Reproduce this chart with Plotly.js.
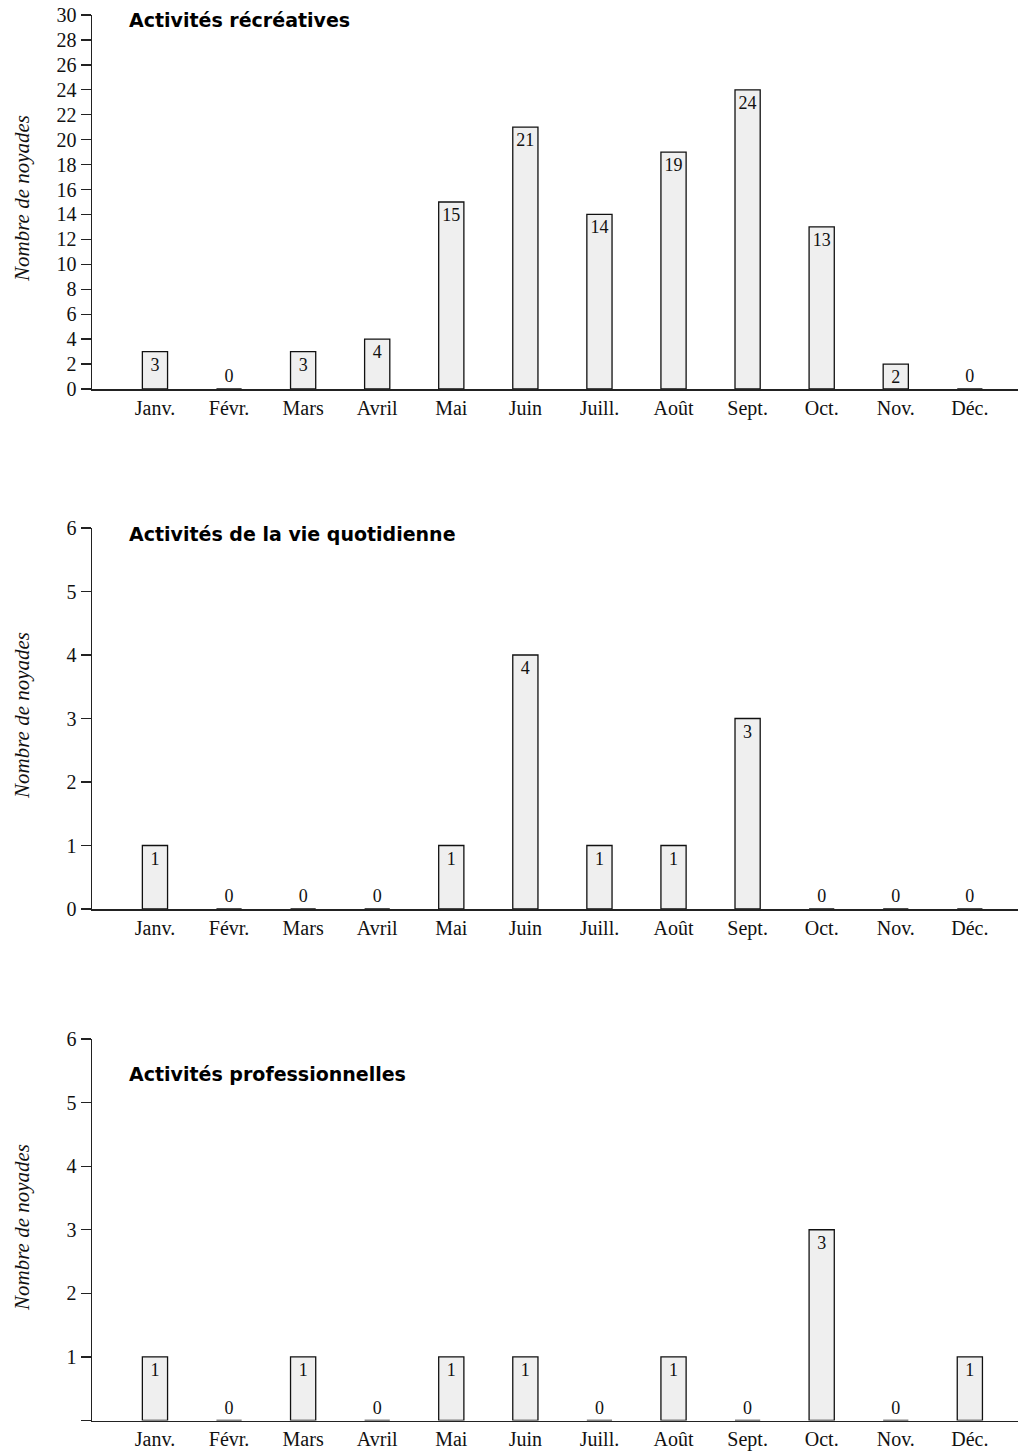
<!DOCTYPE html>
<html>
<head>
<meta charset="utf-8">
<script src="https://cdn.plot.ly/plotly-3.0.1.min.js"></script>
<style>html,body{margin:0;padding:0;background:#fff;}#chart{width:1018px;height:1452px;}</style>
</head>
<body>
<div id="chart"></div>
<script>
const months = ['Janv.', 'Févr.', 'Mars', 'Avril', 'Mai', 'Juin', 'Juill.', 'Août', 'Sept.', 'Oct.', 'Nov.', 'Déc.'];
const recreatives = [3, 0, 3, 4, 15, 21, 14, 19, 24, 13, 2, 0];
const quotidienne = [1, 0, 0, 0, 1, 4, 1, 1, 3, 0, 0, 0];
const professionnelles = [1, 0, 1, 0, 1, 1, 0, 1, 0, 3, 0, 1];
const panelTitles = ['Activités récréatives', 'Activités de la vie quotidienne', 'Activités professionnelles'];
const yTitle = 'Nombre de noyades';
const yTicks1 = [0, 2, 4, 6, 8, 10, 12, 14, 16, 18, 20, 22, 24, 26, 28, 30];
const yTicks2 = [0, 1, 2, 3, 4, 5, 6];
const yTickText2 = ['0', '1', '2', '3', '4', '5', '6'];
const yTickText3 = ['', '1', '2', '3', '4', '5', '6'];

const serif = 'Liberation Serif, Times New Roman, serif';
const series = [recreatives, quotidienne, professionnelles];

function barTrace(vals, idx) {
  const ax = idx === 0 ? '' : String(idx + 1);
  return {
    type: 'bar',
    x: months,
    y: vals,
    xaxis: 'x' + ax,
    yaxis: 'y' + ax,
    width: 0.34,
    marker: {color: '#efefef', line: {color: '#111', width: 1.3}},
    text: vals.map(String),
    textposition: vals.map(v => v === 0 ? 'outside' : 'inside'),
    insidetextanchor: 'end',
    constraintext: 'none',
    textangle: 0,
    cliponaxis: false,
    textfont: {family: serif, size: 18, color: '#111'},
    outsidetextfont: {family: serif, size: 18, color: '#111'},
    insidetextfont: {family: serif, size: 18, color: '#111'},
    hoverinfo: 'skip',
    showlegend: false
  };
}

const H = 1452;
const doms = [
  [1 - 389 / H, 1 - 15 / H],
  [1 - 909 / H, 1 - 528 / H],
  [1 - 1420.5 / H, 1 - 1039 / H]
];

function xaxisDef(anchor) {
  return {
    domain: [92 / 1018, 1],
    anchor: anchor,
    type: 'category',
    categoryorder: 'array',
    categoryarray: months,
    range: [-0.85, 11.65],
    showline: true, linecolor: '#222', linewidth: 1.5,
    ticks: '', showgrid: false, zeroline: false,
    tickfont: {family: serif, size: 20, color: '#111'},
    ticklabelstandoff: 0,
    fixedrange: true
  };
}
function yaxisDef(anchor, dom, range, tickvals, ticktext) {
  return {
    domain: dom,
    anchor: anchor,
    range: range,
    tickmode: 'array', tickvals: tickvals, ticktext: ticktext,
    showline: true, linecolor: '#222', linewidth: 1.5,
    ticks: 'outside', ticklen: 10, tickcolor: '#222', tickwidth: 1.3,
    showgrid: false, zeroline: false,
    tickfont: {family: serif, size: 20, color: '#111'},
    fixedrange: true
  };
}

const layout = {
  width: 1018, height: 1452,
  margin: {l: 0, r: 0, t: 0, b: 0},
  paper_bgcolor: '#fff', plot_bgcolor: '#fff',
  bargap: 0.66,
  xaxis: xaxisDef('y'),
  yaxis: yaxisDef('x', doms[0], [0, 30], yTicks1, yTicks1.map(String)),
  xaxis2: xaxisDef('y2'),
  yaxis2: yaxisDef('x2', doms[1], [0, 6], yTicks2, yTickText2),
  xaxis3: xaxisDef('y3'),
  yaxis3: yaxisDef('x3', doms[2], [0, 6], yTicks2, yTickText3),
  annotations: []
};

const titleY = [20, 534, 1074];
const yTitleCenter = [199, 716, 1228];
panelTitles.forEach((t, i) => {
  layout.annotations.push({
    text: '<b>' + t + '</b>', xref: 'paper', yref: 'paper',
    x: 127 / 1018, y: 1 - titleY[i] / H, xanchor: 'left', yanchor: 'middle',
    showarrow: false, font: {family: 'DejaVu Sans, sans-serif', size: 19, color: '#000'}
  });
  layout.annotations.push({
    text: '<i>' + yTitle + '</i>', xref: 'paper', yref: 'paper',
    x: 22 / 1018, y: 1 - yTitleCenter[i] / H, xanchor: 'center', yanchor: 'middle',
    textangle: -90, showarrow: false,
    font: {family: serif, size: 21, color: '#111'}
  });
});

Plotly.newPlot('chart', series.map((v, i) => barTrace(v, i)), layout, {displayModeBar: false, staticPlot: true});
</script>
</body>
</html>
